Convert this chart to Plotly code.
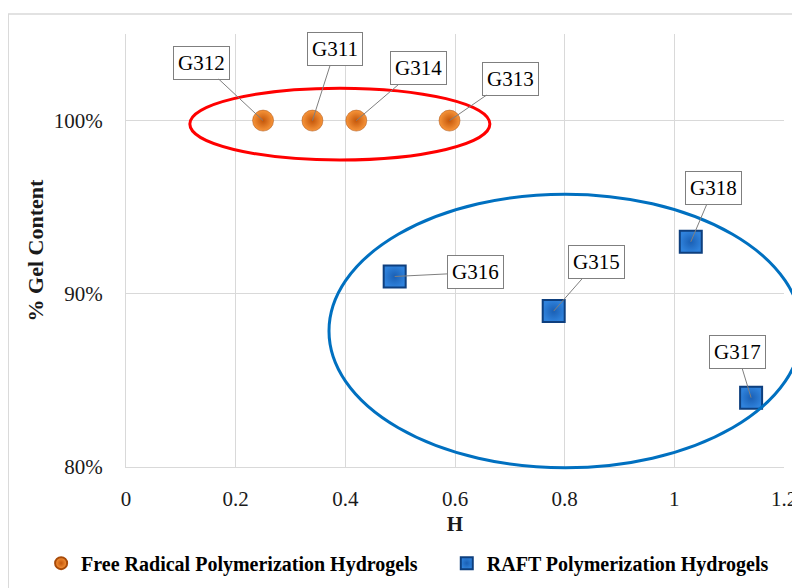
import plotly.graph_objects as go

# Free radical polymerization hydrogels
frp_names = ["G312", "G311", "G314", "G313"]
frp_h = [0.25, 0.34, 0.42, 0.59]
frp_gel = [1.00, 1.00, 1.00, 1.00]

# RAFT polymerization hydrogels
raft_names = ["G316", "G315", "G318", "G317"]
raft_h = [0.49, 0.78, 1.03, 1.14]
raft_gel = [0.91, 0.89, 0.93, 0.84]

# callout offsets (pixels) for the data labels
frp_offsets = [(-62, -58), (23, -72), (62, -53), (61, -42)]
raft_offsets = [(81, -4), (43, -49), (23, -54), (-14, -46)]

FONT = "Liberation Serif"
GRID = "#d9d9d9"

fig = go.Figure()

fig.add_trace(
    go.Scatter(
        x=frp_h,
        y=frp_gel,
        mode="markers",
        name="Free Radical Polymerization Hydrogels",
        legend="legend",
        marker=dict(
            symbol="circle",
            size=21,
            color="#f7953a",
            gradient=dict(type="radial", color="#c4560a"),
            line=dict(width=0.5, color="#a84a08"),
        ),
        hovertext=frp_names,
    )
)

fig.add_trace(
    go.Scatter(
        x=raft_h,
        y=raft_gel,
        mode="markers",
        name="RAFT Polymerization Hydrogels",
        legend="legend2",
        marker=dict(
            symbol="square",
            size=22,
            color="#2f82dc",
            gradient=dict(type="radial", color="#1a5fb4"),
            line=dict(width=2, color="#0e3f7e"),
        ),
        hovertext=raft_names,
    )
)

annotations = []
for names, xs, ys, offs in [
    (frp_names, frp_h, frp_gel, frp_offsets),
    (raft_names, raft_h, raft_gel, raft_offsets),
]:
    for n, x, y, (ax, ay) in zip(names, xs, ys, offs):
        annotations.append(
            dict(
                x=x, y=y, xref="x", yref="y",
                text=n, ax=ax, ay=ay,
                showarrow=True, arrowhead=0, arrowwidth=1,
                arrowcolor="#7f7f7f", standoff=0,
                bgcolor="white", bordercolor="#7f7f7f",
                borderwidth=1, borderpad=4,
                font=dict(family=FONT, size=21, color="black"),
            )
        )

shapes = [
    # outer chart frame
    dict(type="rect", xref="paper", yref="paper",
         x0=-0.179, x1=1.06, y0=-0.35, y1=1.046,
         line=dict(color=GRID, width=1.5), layer="below"),
    # red ellipse around FRP group
    dict(type="circle", xref="paper", yref="paper",
         x0=0.097, x1=0.553, y0=0.709, y1=0.875,
         line=dict(color="#ff0000", width=3)),
    # blue ellipse around RAFT group
    dict(type="circle", xref="paper", yref="paper",
         x0=0.3085, x1=1.027, y0=-0.002, y1=0.630,
         line=dict(color="#0070c0", width=3)),
]

legend_common = dict(
    orientation="h",
    xanchor="left", yanchor="middle",
    itemsizing="constant",
    bgcolor="rgba(0,0,0,0)",
    font=dict(family=FONT, size=20, color="black", weight="bold"),
)

fig.update_layout(
    width=792,
    height=580,
    margin=dict(l=118, r=16, t=26, b=121, autoexpand=False),
    paper_bgcolor="white",
    plot_bgcolor="white",
    font=dict(family=FONT, size=21, color="#1a1a1a"),
    showlegend=True,
    legend=dict(x=-0.129, y=-0.222, **legend_common),
    legend2=dict(x=0.4875, y=-0.222, **legend_common),
    annotations=annotations,
    shapes=shapes,
    xaxis=dict(
        range=[0, 1.2],
        dtick=0.2,
        showgrid=True,
        gridcolor=GRID,
        zeroline=False,
        showline=True,
        linecolor=GRID,
        ticks="",
        ticklabelstandoff=13,
        tickfont=dict(size=21),
        title=dict(text="<b>H</b>", standoff=6, font=dict(size=21)),
        automargin=False,
    ),
    yaxis=dict(
        range=[0.8, 1.05],
        dtick=0.1,
        tickformat=".0%",
        showgrid=True,
        gridcolor=GRID,
        zeroline=False,
        showline=True,
        linecolor=GRID,
        ticks="",
        ticklabelstandoff=18,
        tickfont=dict(size=21),
        title=dict(text="<b>% Gel Content</b>", standoff=4, font=dict(size=22)),
        automargin=False,
    ),
)

fig.write_html("out.html")
